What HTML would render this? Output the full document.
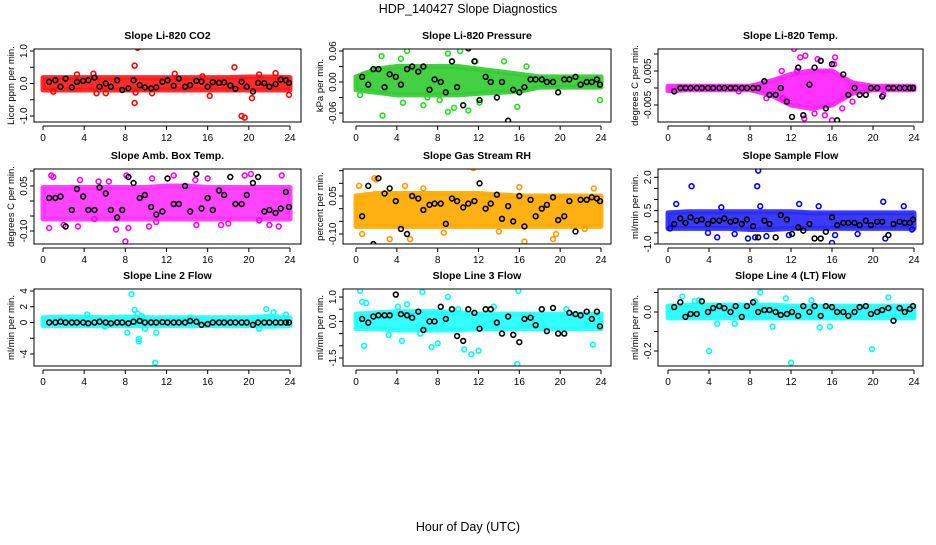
<!DOCTYPE html>
<html><head><meta charset="utf-8"><style>
body{margin:0;background:#fff;width:936px;height:540px;overflow:hidden}
svg{font-family:"Liberation Sans",sans-serif}
</style></head><body>
<svg id="c" width="936" height="540" viewBox="0 0 936 540">
<text x="468" y="13" text-anchor="middle" font-size="12.5">HDP_140427  Slope Diagnostics</text>
<text x="468" y="531" text-anchor="middle" font-size="12.5">Hour of Day (UTC)</text>
</svg>
<script>
const xTicks=[0,4,8,12,16,20,24];
const bandHours=[0,2,4,6,8,10,12,14,16,18,20,22,24];
const blackHours=[0.6,1.2,1.7,2.2,2.8,3.3,3.9,4.4,5.0,5.5,6.1,6.6,7.2,7.7,8.3,8.8,9.4,9.9,10.5,11.0,11.6,12.1,12.7,13.2,13.8,14.3,14.9,15.4,16.0,16.5,17.1,17.6,18.2,18.7,19.3,19.8,20.4,20.9,21.5,22.0,22.6,23.1,23.6,23.9];

const titles=["Slope Li-820 CO2","Slope Li-820 Pressure","Slope Li-820 Temp.","Slope Amb. Box Temp.","Slope Gas Stream RH","Slope Sample Flow","Slope Line 2 Flow","Slope Line 3 Flow","Slope Line 4 (LT) Flow"];
const yTitles=["Licor ppm per min.","kPa per min.","degrees C per min.","degrees C per min.","percent per min.","ml/min per min.","ml/min per min.","ml/min per min.","ml/min per min."];
const yTickVals=[[-1,-0.5,0,0.5,1],[-0.06,-0.03,0,0.03,0.06],[-0.005,0,0.005,0.01],[-0.1,-0.05,0,0.05,0.1],[-0.1,-0.05,0,0.05,0.1,0.15],[-1,-0.5,0,0.5,1,1.5,2],[-4,-2,0,2,4],[-1.5,-1,-0.5,0,0.5,1],[-0.2,-0.1,0,0.1]];
const yTickLabels=[["-1.0","","0.0","","1.0"],["-0.06","","0.00","","0.06"],["-0.005","","0.005",""],["-0.10","","","0.05",""],["-0.10","","","0.05","",""],["-1.0","","","0.5","","","2.0"],["-4","","0","2","4"],["-1.5","","","0.0","","1.0"],["-0.2","","0.0",""]];

const bandLo1=[-0.2,-0.2,-0.2,-0.2,-0.2,-0.2,-0.2,-0.2,-0.2,-0.2,-0.2,-0.2,-0.2];
const bandHi1=[0.18,0.18,0.18,0.18,0.18,0.18,0.18,0.18,0.18,0.18,0.2,0.2,0.18];
const bandLo2=[-0.015,-0.02,-0.025,-0.025,-0.025,-0.025,-0.022,-0.02,-0.018,-0.01,-0.01,-0.01,-0.01];
const bandHi2=[0.01,0.025,0.03,0.03,0.03,0.03,0.025,0.02,0.015,0.01,0.01,0.01,0.01];
const bandLo3=[-0.0008,-0.0005,-0.0005,-0.0005,-0.0005,-0.002,-0.005,-0.006,-0.005,-0.0015,-0.0005,-0.0005,-0.0005];
const bandHi3=[0.0005,0.0005,0.0005,0.0005,0.0005,0.002,0.004,0.005,0.005,0.0015,0.0005,0.0005,0.0005];
const bandLo4=[-0.06,-0.06,-0.06,-0.06,-0.06,-0.06,-0.06,-0.06,-0.06,-0.06,-0.06,-0.06,-0.06];
const bandHi4=[0.045,0.045,0.045,0.045,0.045,0.045,0.05,0.05,0.045,0.045,0.045,0.045,0.045];
const bandLo5=[-0.07,-0.07,-0.07,-0.07,-0.07,-0.07,-0.07,-0.07,-0.07,-0.07,-0.07,-0.07,-0.07];
const bandHi5=[0.05,0.06,0.06,0.06,0.06,0.06,0.06,0.055,0.05,0.05,0.05,0.05,0.05];
const bandLo6=[-0.3,-0.3,-0.3,-0.3,-0.35,-0.35,-0.3,-0.3,-0.3,-0.3,-0.3,-0.3,-0.3];
const bandHi6=[0.4,0.45,0.45,0.45,0.45,0.45,0.45,0.4,0.4,0.4,0.4,0.4,0.4];
const bandLo7=[-0.4,-0.4,-0.4,-0.4,-0.4,-0.4,-0.4,-0.4,-0.4,-0.4,-0.4,-0.5,-0.4];
const bandHi7=[0.6,0.7,0.7,0.6,0.7,0.6,0.6,0.6,0.6,0.6,0.6,0.8,0.6];
const bandLo8=[-0.3,-0.3,-0.35,-0.35,-0.35,-0.35,-0.3,-0.3,-0.3,-0.3,-0.3,-0.3,-0.3];
const bandHi8=[0.3,0.35,0.4,0.4,0.4,0.35,0.3,0.3,0.3,0.3,0.3,0.3,0.3];
const bandLo9=[-0.03,-0.03,-0.03,-0.03,-0.03,-0.03,-0.03,-0.03,-0.03,-0.03,-0.03,-0.03,-0.03];
const bandHi9=[0.03,0.035,0.035,0.035,0.035,0.035,0.03,0.03,0.03,0.03,0.03,0.03,0.03];

const black1=[0.05,0.1,-0.1,0.15,-0.12,0.05,0.08,0.1,0.18,-0.1,0.0,-0.1,0.1,-0.2,-0.15,0.1,-0.05,-0.12,-0.15,-0.12,0.05,0.1,-0.07,0.15,-0.1,-0.05,0.08,0.06,-0.1,0.04,0.02,0.03,-0.06,-0.16,0.05,-0.1,-0.25,0.02,0.01,-0.1,-0.02,0.12,0.1,0.02];
const black2=[0.01,-0.005,0.025,0.025,-0.01,0.015,0.01,-0.005,0.025,0.03,0.02,0.03,-0.015,0.005,0.0,-0.02,0.04,-0.01,-0.045,0.065,0.04,-0.035,0.01,0.0,-0.03,0.0,-0.075,-0.015,-0.02,-0.01,0.005,0.005,0.005,0.0,0.0,-0.02,0.005,0.005,0.01,-0.005,0.0,0.0,0.005,-0.005];
const black3=[-0.001,0,0,0,0,0,0,0,0,0,0,0,0,0,0,0,0.002,-0.002,-0.002,0.0,-0.004,-0.0085,0.006,-0.008,0.001,0.006,0.008,-0.006,0.007,-0.0095,0.004,-0.002,0,-0.002,-0.002,0,0,-0.0025,0,0,0,0,0,0];
const black4=[0.01,0.01,0.015,-0.085,-0.03,0.04,0.015,-0.03,-0.03,0.045,0.025,-0.03,-0.055,-0.03,0.08,0.06,0.01,0.02,-0.02,-0.045,-0.035,0.075,-0.01,-0.01,0.05,-0.035,0.09,-0.025,0.01,-0.03,0.035,0.02,0.08,-0.01,-0.01,0.02,0.06,0.08,-0.035,-0.03,-0.04,-0.025,0.03,-0.02];
const black5=[-0.03,0.09,-0.14,0.12,0.06,0.08,0.03,-0.08,-0.1,0.05,0.04,-0.005,0.015,0.02,0.02,-0.06,0.04,0.03,0.005,0.02,0.03,0.1,0.0,0.02,0.055,-0.04,0.01,-0.05,0.05,-0.07,0.035,-0.03,0.0,0.015,0.045,-0.045,-0.03,0.03,-0.09,0.035,0.035,0.045,0.04,0.03];
const black6=[-0.1,0.15,-0.05,0.2,0.05,0.1,-0.1,0.05,0.05,0.15,0.0,0.05,-0.1,0.1,-0.2,-0.7,0.05,-0.1,-0.7,0.3,0.1,-0.55,-0.25,-0.4,-0.1,-0.75,-0.75,-0.45,0.2,-0.15,-0.05,-0.05,-0.05,-0.15,0.05,-0.15,0.0,0.0,-0.6,-0.1,0.0,-0.05,-0.05,0.1];
const black7=[0,0,0.1,0,0,0,0,-0.1,0,0.1,0,-0.1,0,0,-0.1,0.1,0.2,0,0,0,0.05,0,0,0,0,0.2,0.1,-0.3,-0.2,0,0,0,0,0,0,0,-0.3,0,0,0,0,0,0,0];
const black8=[0.1,-0.05,0.2,0.25,0.25,0.25,1.1,0.3,0.25,0.15,0.4,-0.35,0.0,0.0,0.6,0.1,0.5,-0.6,-0.8,0.5,0.35,-0.3,0.5,0.5,-0.05,-0.5,0.2,-0.55,-0.85,0.1,0.15,-0.15,0.5,-0.4,0.55,-0.5,-0.5,0.35,0.3,0.25,0.4,0.1,0.4,-0.2];
const black9=[0.025,0.05,-0.025,-0.01,-0.01,0.055,0.0,0.02,0.03,0.02,0.0,0.03,-0.025,0.03,0.05,0.0,0.01,0.01,0.0,-0.015,-0.01,0.0,-0.02,0.03,0.0,0.03,-0.02,0.03,0.025,0.0,0.0,-0.02,0.0,0.025,0.03,-0.01,0.0,0.01,0.02,-0.045,0.02,0.0,0.015,0.03];

const out1=[[9.2,1.1],[8.9,0.55],[8.9,-0.6],[18.6,0.5],[19.3,-1.0],[19.6,-1.05],[20.3,-0.45],[23.9,-0.35],[16.2,-0.38],[3.3,0.28],[4.9,0.3],[12.8,0.3],[22.6,0.32],[9.0,-0.28],[5.2,-0.3],[6.1,-0.3],[10.6,-0.3],[15.5,0.22],[21.0,0.28],[1.0,-0.25]];
const out2=[[2.5,0.05],[4.4,0.045],[5.0,0.06],[9.0,0.055],[10.2,0.06],[11.7,0.04],[9.6,-0.05],[2.6,-0.065],[4.6,-0.04],[6.6,-0.045],[8.2,-0.035],[9.0,-0.058],[11.0,-0.055],[12.1,-0.04],[15.8,-0.048],[23.9,-0.035],[0.4,-0.025],[14.5,0.04],[16.7,0.03],[7.0,-0.03]];
const out3=[[12.3,0.0115],[12.9,0.009],[13.4,0.0095],[14.6,0.0085],[16.3,0.009],[16.2,0.007],[11.1,0.005],[9.6,-0.003],[6.9,-0.001],[13.3,-0.009],[14.3,-0.0075],[15.3,-0.008],[16.0,-0.0095],[17.0,-0.006],[18.0,-0.004],[21.0,-0.002],[11.2,-0.003],[12.6,0.005]];
const out4=[[0.8,0.085],[1.0,0.08],[3.6,0.07],[5.4,0.065],[6.4,0.065],[8.1,0.085],[10.6,0.075],[12.7,0.085],[14.8,0.07],[16.0,0.075],[19.6,0.085],[20.2,0.09],[23.2,0.085],[0.6,-0.09],[2.0,-0.08],[3.4,-0.085],[7.1,-0.095],[8.3,-0.09],[8.0,-0.135],[10.3,-0.085],[14.9,-0.08],[17.3,-0.08],[18.0,-0.075],[22.0,-0.08],[22.9,-0.085],[5.0,-0.06],[11.0,-0.07],[21.0,-0.065]];
const out5=[[0.3,0.09],[1.8,0.12],[2.0,0.115],[4.8,0.09],[11.5,0.16],[3.3,-0.12],[5.3,-0.12],[0.6,-0.1],[8.6,-0.095],[16.5,-0.13],[19.3,-0.12],[19.6,-0.1],[14.0,-0.09],[23.3,0.08],[16.0,0.085],[6.6,0.08],[22.4,-0.08]];
const out6=[[0.8,0.8],[2.3,1.6],[8.8,2.3],[8.7,1.6],[9.0,0.7],[12.8,0.8],[14.7,0.7],[21.0,0.9],[23.0,0.7],[5.2,0.65],[4.8,-0.7],[6.5,-0.55],[7.8,-0.75],[8.5,-0.7],[9.6,-0.65],[11.8,-0.6],[16.0,-0.95],[16.3,-0.6],[18.5,-0.55],[21.2,-0.75],[23.8,-0.35],[3.9,-0.5],[0.2,-0.3]];
const out7=[[8.6,3.6],[8.9,1.6],[9.2,1.1],[9.6,0.8],[8.2,-1.3],[9.3,-2.1],[9.3,-2.4],[9.9,-0.8],[11.0,-1.3],[10.9,-5.1],[21.7,1.7],[22.4,1.3],[23.6,1.0],[21.0,-0.8],[4.3,1.0],[6.0,-0.5],[14.3,0.6]];
const out8=[[0.4,1.25],[0.6,0.8],[1.0,0.75],[0.8,-1.0],[3.2,-0.55],[4.5,-0.8],[5.0,0.7],[6.5,1.2],[6.3,-0.5],[7.4,-1.05],[8.0,-0.9],[9.0,1.0],[10.0,0.5],[10.6,-1.15],[11.3,-1.35],[12.0,-1.2],[15.9,1.25],[15.8,-1.75],[20.6,0.5],[23.2,-0.95],[4.1,0.6],[13.5,0.6]];
const out9=[[1.4,0.08],[4.0,-0.2],[9.0,0.1],[12.0,-0.26],[14.0,0.06],[14.8,-0.08],[15.8,-0.075],[19.9,-0.19],[21.5,0.075],[4.8,-0.06],[6.5,-0.06],[10.2,-0.075],[11.5,0.07],[3.0,0.06],[8.5,0.055],[2.6,0.055]];

const bandsLo=[bandLo1,bandLo2,bandLo3,bandLo4,bandLo5,bandLo6,bandLo7,bandLo8,bandLo9];
const bandsHi=[bandHi1,bandHi2,bandHi3,bandHi4,bandHi5,bandHi6,bandHi7,bandHi8,bandHi9];
const blacks=[black1,black2,black3,black4,black5,black6,black7,black8,black9];
const outs=[out1,out2,out3,out4,out5,out6,out7,out8,out9];

const cols=[{x0:34,x1:301,h0:43,h24:290},{x0:343,x1:611,h0:356,h24:601},{x0:658,x1:923,h0:668,h24:914}];
const rows=[{y0:49,y1:122},{y0:169,y1:244},{y0:289,y1:366}];
const ycal=[[1,51,-1,116],[0.06,51,-0.06,113],[0.005,71,-0.005,105],[0.05,186,-0.1,231],[0.05,196,-0.1,234],[2,177.3,-1,244],[4,291,-4,354],[1,297,-1.5,358],[0,312,-0.2,351]];
const colors=["#ff0000","#22dd22","#ff00ff","#ff00ff","#ff9900","#0000ff","#00ffff","#00ffff","#00ffff"];
const bandFill=["#ff1a1a","#33cc33","#ff22ff","#ff33ff","#ffaa00","#2a2aff","#22ffff","#22ffff","#22ffff"];

const NS="http://www.w3.org/2000/svg";
const svg=document.getElementById('c');
function mk(tag,attrs,parent){const e=document.createElementNS(NS,tag);for(const k in attrs)e.setAttribute(k,attrs[k]);(parent||svg).appendChild(e);return e;}

for(let p=0;p<9;p++){
  const c=cols[p%3], r=rows[Math.floor(p/3)], cal=ycal[p];
  const xs=h=>c.h0+(c.h24-c.h0)*h/24;
  const ys=v=>cal[1]+(v-cal[0])*(cal[3]-cal[1])/(cal[2]-cal[0]);
  const g=mk('g',{});
  
  
  const clip=mk('clipPath',{id:'cl'+p},g);
  mk('rect',{x:c.x0,y:r.y0,width:c.x1-c.x0,height:r.y1-r.y0},clip);
  const pg=mk('g',{'clip-path':'url(#cl'+p+')'},g);
  let pts=bandHours.map((h,i)=>xs(h)+','+ys(bandsHi[p][i]));
  pts=pts.concat(bandHours.map((h,i)=>xs(h)+','+ys(bandsLo[p][i])).reverse());
  const band=mk('polygon',{points:pts.join(' '),fill:bandFill[p],stroke:bandFill[p],'stroke-width':5,'stroke-linejoin':'round','fill-opacity':0.92,'stroke-opacity':0.92},pg);
  
  
  outs[p].forEach(d=>{
    const e=mk('circle',{cx:xs(d[0]),cy:ys(d[1]),r:2.4,fill:'none',stroke:colors[p],'stroke-width':1.6},pg);
    
    
  });
  blacks[p].forEach((v,i)=>{
    const e=mk('circle',{cx:xs(blackHours[i]),cy:ys(v),r:2.4,fill:'none',stroke:'#000','stroke-width':1.6},pg);
    
    
  });
  const box=mk('rect',{x:c.x0,y:r.y0,width:c.x1-c.x0,height:r.y1-r.y0,fill:'none',stroke:'#000','stroke-width':1},g);
  
  
  const t=mk('text',{x:(c.x0+c.x1)/2,y:r.y0-10,'text-anchor':'middle','font-size':10.5,'font-weight':'bold'},g);
  t.textContent=titles[p];
  
  
  mk('line',{x1:xs(0),x2:xs(24),y1:r.y1+4,y2:r.y1+4,stroke:'#000'},g);
  xTicks.forEach(h=>{
    mk('line',{x1:xs(h),x2:xs(h),y1:r.y1+4,y2:r.y1+8,stroke:'#000'},g);
    const l=mk('text',{x:xs(h),y:r.y1+19,'text-anchor':'middle','font-size':10},g);
    l.textContent=h;
    
    
  });
  const tv=yTickVals[p];
  mk('line',{x1:c.x0,x2:c.x0,y1:ys(tv[0]),y2:ys(tv[tv.length-1]),stroke:'#000'},g);
  tv.forEach((v,i)=>{
    mk('line',{x1:c.x0-4,x2:c.x0,y1:ys(v),y2:ys(v),stroke:'#000'},g);
    const s=yTickLabels[p][i];
    if(s){
      const l=mk('text',{x:0,y:0,'text-anchor':'middle','font-size':10,transform:'translate('+(c.x0-7)+','+ys(v)+') rotate(-90)'},g);
      l.textContent=s;
      
      
    }
  });
  const yt=mk('text',{x:0,y:0,'text-anchor':'middle','font-size':9.5,transform:'translate('+(c.x0-20)+','+((r.y0+r.y1)/2)+') rotate(-90)'},g);
  yt.textContent=yTitles[p];
  
  
}
</script>
</body></html>
